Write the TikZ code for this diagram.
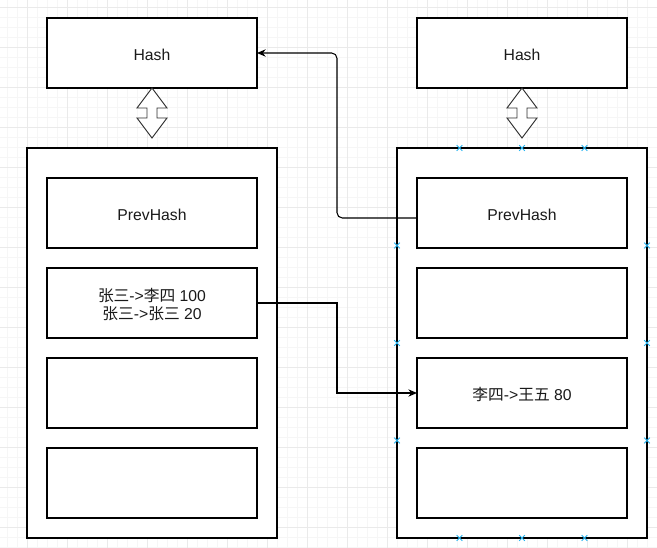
\documentclass[tikz,border=0pt]{standalone}
\usepackage{fontspec}
\setmainfont{Liberation Sans}
\newfontfamily\cjk{Noto Sans CJK SC}
\usetikzlibrary{arrows.meta}
\definecolor{gridminor}{HTML}{F6F6F6}
\definecolor{gridmajor}{HTML}{EAEAEA}
\definecolor{markblue}{HTML}{29B6F2}
\definecolor{txt}{HTML}{1A1A1A}
\tikzset{
  box/.style={draw=black, line width=0.9pt, fill=white, minimum width=157.5pt, minimum height=52.5pt, inner sep=0pt, outer sep=0pt},
  lbl/.style={text=txt, font=\fontsize{11.8pt}{13.5pt}\selectfont, align=center, inner sep=0pt},
  outerbox/.style={draw=black, line width=0.9pt, fill=white, minimum width=187.5pt, minimum height=292.5pt, inner sep=0pt, outer sep=0pt},
  dblarrow/.style={draw=black!80, line width=0.7pt, fill=white, line join=miter},
  conn/.style={draw=black, line width=0.8pt, -{Stealth[length=6.5pt,width=5.5pt]}},
  gminor/.style={draw=gridminor, line width=0.75pt},
  gmajor/.style={draw=gridmajor, line width=0.75pt},
  bluemark/.style={draw=markblue, line width=0.75pt}
}
\begin{document}
\begin{tikzpicture}[x=0.75pt, y=-0.75pt]
\useasboundingbox (0,0) rectangle (657,548);
\fill[white] (0,0) rectangle (657,548);
% grid
\foreach \x in {7,17,...,657} \draw[gminor] (\x,0) -- (\x,548);
\foreach \y in {8,18,...,548} \draw[gminor] (0,\y) -- (657,\y);
\foreach \x in {27,67,...,657} \draw[gmajor] (\x,0) -- (\x,548);
\foreach \y in {8,48,...,548} \draw[gmajor] (0,\y) -- (657,\y);

% hash boxes
\node[box] (lh) at (152,53) {};
\node[box] (rh) at (522,53) {};

% outer blocks
\node[outerbox] (lo) at (152,343) {};
\node[outerbox] (ro) at (522,343) {};

% inner boxes left
\node[box] (lp) at (152,213) {};
\node[box] (lt) at (152,303) {};
\node[box] (l3) at (152,393) {};
\node[box] (l4) at (152,483) {};

% inner boxes right
\node[box] (rp) at (522,213) {};
\node[box] (r2) at (522,303) {};
\node[box] (rt) at (522,393) {};
\node[box] (r4) at (522,483) {};

% labels
\node[lbl, yshift=-1.5*0.75pt] (lhl) at (lh) {Hash};
\node[lbl, yshift=-1.5*0.75pt] (rhl) at (rh) {Hash};
\node[lbl, yshift=-1.5*0.75pt] (lpl) at (lp) {PrevHash};
\node[lbl, yshift=-1.5*0.75pt] (rpl) at (rp) {PrevHash};
\node[lbl, yshift=-1.5*0.75pt] (ltl) at (lt) {{\cjk 张三}->{\cjk 李四} 100\\{\cjk 张三}->{\cjk 张三} 20};
\node[lbl, yshift=-1.5*0.75pt] (rtl) at (rt) {{\cjk 李四}->{\cjk 王五} 80};

% double arrows
\foreach \cx in {152,522} {
  \draw[dblarrow] (\cx,88) -- (\cx+15,108) -- (\cx+5,108) -- (\cx+5,118) -- (\cx+15,118)
    -- (\cx,138) -- (\cx-15,118) -- (\cx-5,118) -- (\cx-5,108) -- (\cx-15,108) -- cycle;
}

% connectors
\coordinate (mid) at (337,0);
\coordinate (rpw) at ([yshift=-3.75pt]rp.west);
\draw[conn, rounded corners=4pt] (rpw) -- (rpw -| mid) |- (lh.east);
\draw[conn] (lt.east) -- (lt.east -| mid) |- (rt.west);

% blue connection marks on right block
\foreach \p in {(459.5,148),(522,148),(584.5,148),(459.5,538),(522,538),(584.5,538),
                (397,245.5),(397,343),(397,440.5),(647,245.5),(647,343),(647,440.5)} {
  \draw[bluemark] \p ++(-2.8,-2.8) -- ++(5.6,5.6);
  \draw[bluemark] \p ++(-2.8,2.8) -- ++(5.6,-5.6);
}
\end{tikzpicture}
\end{document}
